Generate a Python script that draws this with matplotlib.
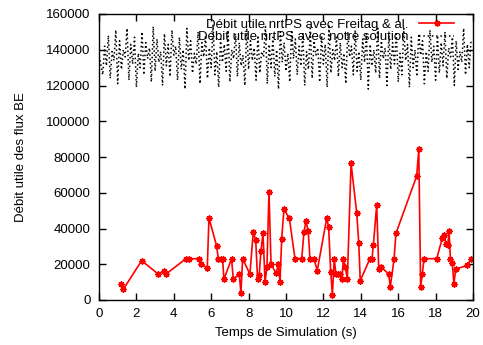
import numpy as np
import matplotlib
matplotlib.use("Agg")
import matplotlib.pyplot as plt

plt.rcParams['font.family'] = ['Liberation Sans', 'DejaVu Sans']

# Red series: Débit utile nrtPS avec Freitag & al.
freitag_t = [1.18, 1.30, 2.28, 3.17, 3.48, 3.58, 4.65, 4.83, 5.37, 5.47, 5.79, 5.88,
             6.29, 6.38, 6.52, 6.61, 6.68, 7.09, 7.18, 7.50, 7.59, 7.68, 8.07, 8.25,
             8.38, 8.48, 8.57, 8.66, 8.77, 8.88, 8.98, 9.09, 9.20, 9.47, 9.59, 9.68,
             9.77, 9.89, 10.18, 10.48, 10.84, 10.96, 11.07, 11.19, 11.28, 11.50, 11.67,
             12.18, 12.28, 12.39, 12.48, 12.58, 12.67, 12.80, 12.89, 12.99, 13.07, 13.17,
             13.28, 13.48, 13.78, 13.89, 13.97, 14.49, 14.60, 14.67, 14.85, 14.96, 15.08,
             15.49, 15.58, 15.78, 15.88, 16.99, 17.10, 17.20, 17.29, 17.38, 18.06, 18.36,
             18.47, 18.56, 18.65, 18.72, 18.79, 18.89, 18.98, 19.07, 19.70, 19.88]
freitag_v = [8900, 6000, 22000, 14500, 16400, 14500, 23100, 23100, 23100, 20100, 17900, 45900,
             30200, 23100, 22700, 23100, 11600, 23100, 11600, 14500, 4100, 23100, 14500, 38000,
             33600, 11600, 14200, 27600, 37300, 10100, 18300, 60600, 20100, 14900, 20100, 10100,
             34300, 50700, 45700, 23100, 23100, 38000, 44000, 38400, 23100, 23100, 16400,
             45900, 40600, 15700, 3000, 23100, 14500, 14500, 14500, 11600, 23100, 18600,
             11600, 76500, 48800, 32100, 10800, 23100, 23100, 30600, 53000, 17200, 18600,
             14500, 7400, 23100, 37300, 69400, 84300, 7400, 14500, 23100, 23100, 34700,
             36500, 31300, 30600, 38800, 23100, 20900, 8900, 17200, 19400, 22700]

# Black series: Débit utile nrtPS avec notre solution (sampled every 0.1 s)
notre_step = 0.1
notre_v = [78000, 136000,
           126000, 142000, 131000, 148000, 124000, 139000, 134000, 151000, 121000, 145000,
           129000, 140000, 136000, 152000, 123000, 143000, 132000, 147000, 119000, 138000,
           130000, 150000, 126000, 144000, 135000, 141000, 122000, 153000, 128000, 146000,
           133000, 139000, 120000, 149000, 131000, 143000, 125000, 151000, 137000, 142000,
           123000, 147000, 129000, 140000, 118000, 152000, 134000, 145000, 127000, 138000,
           132000, 150000, 121000, 144000, 136000, 148000, 124000, 141000, 130000, 154000,
           126000, 139000, 119000, 146000, 133000, 143000, 128000, 151000, 122000, 140000,
           135000, 149000, 125000, 144000, 131000, 137000, 120000, 152000, 129000, 145000,
           134000, 141000, 123000, 148000, 127000, 139000, 136000, 153000, 121000, 143000,
           130000, 147000, 125000, 140000, 118000, 150000, 133000, 144000, 128000, 138000,
           122000, 151000, 135000, 146000, 126000, 142000, 131000, 149000, 120000, 139000,
           129000, 152000, 124000, 145000, 137000, 141000, 122000, 148000, 132000, 143000,
           119000, 154000, 127000, 140000, 134000, 147000, 125000, 144000, 130000, 138000,
           121000, 150000, 136000, 142000, 126000, 151000, 128000, 139000, 123000, 146000,
           133000, 149000, 118000, 143000, 131000, 140000, 127000, 153000, 124000, 145000,
           135000, 141000, 120000, 148000, 129000, 144000, 132000, 150000, 122000, 138000,
           126000, 152000, 134000, 143000, 119000, 147000, 130000, 140000, 125000, 149000,
           137000, 145000, 121000, 139000, 128000, 151000, 133000, 142000, 123000, 148000,
           127000, 144000, 131000, 150000, 124000, 141000, 136000, 147000, 120000, 145000,
           129000, 139000, 133000, 152000, 126000, 143000, 130000, 146000]
notre_t = np.arange(len(notre_v)) * notre_step
notre_t[1] = 0.02

xticks = list(range(0, 21, 2))
yticks = list(range(0, 160001, 20000))

fig = plt.figure(figsize=(4.83, 3.45), dpi=100)
ax = fig.add_axes([99/483, 1 - 300/345, 374/483, 286/345])

ax.plot(freitag_t, freitag_v, color='#ff0000', lw=1.2, marker=(8, 2, 0), ms=4.5, mew=1.0,
        label='Débit utile nrtPS avec Freitag & al.')
ax.plot(notre_t, notre_v, color='black', lw=1.1, linestyle=(0, (1, 1.8)),
        label='Débit utile nrtPS avec notre solution')

ax.set_xlim(0, 20)
ax.set_ylim(0, 160000)
ax.set_xticks(xticks)
ax.set_yticks(yticks)
ax.tick_params(direction='in', length=5, width=1, top=True, right=True, labelsize=9.5, pad=6)
for s in ax.spines.values():
    s.set_linewidth(1.0)

ax.set_xlabel('Temps de Simulation (s)', fontsize=9.5, labelpad=5)
ax.set_ylabel('Débit utile des flux BE', fontsize=9.5, labelpad=14)

leg = ax.legend(loc='upper right', bbox_to_anchor=(1 - 14/374, 1 + 1/286), frameon=False,
                markerfirst=False, fontsize=9.5, handlelength=2.6, handletextpad=0.8,
                labelspacing=0.05, borderaxespad=0.0)

fig.savefig('out.png', dpi=100)
